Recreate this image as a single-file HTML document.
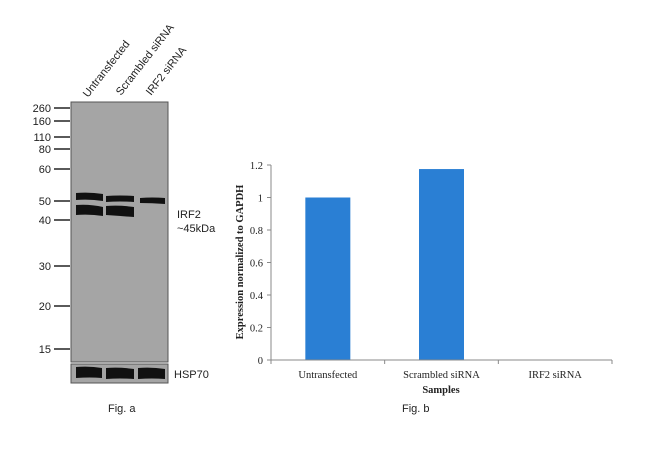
<!DOCTYPE html>
<html><head><meta charset="utf-8"><style>
body{margin:0;background:#fff;width:650px;height:449px;overflow:hidden}
svg{display:block}
.a{font-family:"Liberation Sans",sans-serif;font-size:11px;fill:#222}
.s{font-family:"Liberation Serif",serif;font-size:10.5px;fill:#222}
</style></head><body>
<svg width="650" height="449">
<g id="blot">
<rect x="71" y="102" width="97" height="260" fill="#a5a5a5" stroke="#555" stroke-width="1"/>
<rect x="71" y="364" width="97" height="19" fill="#a5a5a5" stroke="#555" stroke-width="1"/>
<g>
<text class="a" transform="translate(88,98) rotate(-52)">Untransfected</text>
<text class="a" transform="translate(121,96) rotate(-52)">Scrambled siRNA</text>
<text class="a" transform="translate(151,96) rotate(-52)">IRF2 siRNA</text>
</g>
<g id="markers"></g>
<g fill="#111">
<path d="M76,193 Q90,192 103,194 L103,201 Q90,199 76,200Z"/>
<path d="M76,205 Q90,204 103,207 L103,216 Q90,214 76,215Z"/>
<path d="M106,196 Q120,195 134,196 L134,202 Q120,201 106,202Z"/>
<path d="M106,206 Q120,205 134,207 L134,217 Q120,216 106,215Z"/>
<path d="M140,198 Q152,197 165,198 L165,204 Q152,203 140,203Z"/>
<path d="M76,367 Q90,366 102,368 L102,378 Q90,377 76,378Z"/>
<path d="M106,368 Q120,367 134,369 L134,379 Q120,378 106,379Z"/>
<path d="M138,368 Q152,367 165,369 L165,379 Q152,378 138,379Z"/>
</g>
<text class="a" x="177" y="218">IRF2</text>
<text class="a" x="177" y="232">~45kDa</text>
<text class="a" x="174" y="378">HSP70</text>
<text class="a" x="108" y="412" font-size="10">Fig. a</text>
</g>
<g id="chart"></g>
<text class="a" x="402" y="412" font-size="10">Fig. b</text>
</svg>
<script>
const mwLabels=["260","160","110","80","60","50","40","30","20","15"];
const mwY=[108,121,137,149,169,201,220,266,306,349];
const categories=["Untransfected","Scrambled siRNA","IRF2 siRNA"];
const values=[1.0,1.175,0];
const yTicks=[0,0.2,0.4,0.6,0.8,1,1.2];
const NS="http://www.w3.org/2000/svg";
function mk(p,t,a){const e=document.createElementNS(NS,t);for(const k in a)e.setAttribute(k,a[k]);p.appendChild(e);return e;}
const mg=document.getElementById('markers');
mwLabels.forEach((l,i)=>{
 const ln=mk(mg,'line',{x1:54,x2:70,y1:mwY[i],y2:mwY[i],stroke:'#222','stroke-width':1.5});
 
 
 const t=mk(mg,'text',{x:51,y:mwY[i]+4,'text-anchor':'end',class:'a'});t.textContent=l;
 
 
});
const g=document.getElementById('chart');
const X0=271,X1=612,Y0=360,YT=165,YMAX=1.2;
const y=v=>Y0-(v/YMAX)*(Y0-YT);
const bw=(X1-X0)/categories.length;
const xc=i=>X0+bw*(i+0.5);
yTicks.forEach(v=>{
 const tk=mk(g,'line',{x1:X0-4,x2:X0,y1:y(v),y2:y(v),stroke:'#888'});
 
 
 const t=mk(g,'text',{x:X0-8,y:y(v)+4,'text-anchor':'end',class:'s'});t.textContent=String(v);
 
 
});
values.forEach((v,i)=>{
 if(v>0){const r=mk(g,'rect',{x:xc(i)-22.5,y:y(v),width:45,height:Y0-y(v),fill:'#2a7fd4'});
 
 }
 const t=mk(g,'text',{x:xc(i),y:Y0+18,'text-anchor':'middle',class:'s'});t.textContent=categories[i];
 
 
});
for(let i=0;i<=categories.length;i++){const tk=mk(g,'line',{x1:X0+bw*i,x2:X0+bw*i,y1:Y0,y2:Y0+4,stroke:'#888'});
 
 }
const ax=mk(g,'line',{x1:X0,x2:X0,y1:YT,y2:Y0,stroke:'#888'});


const bx=mk(g,'line',{x1:X0,x2:X1,y1:Y0,y2:Y0,stroke:'#888'});


const xt=mk(g,'text',{x:441,y:393,'text-anchor':'middle',class:'s','font-weight':'bold'});xt.textContent='Samples';


const yt=mk(g,'text',{transform:'translate(243,262) rotate(-90)','text-anchor':'middle',class:'s','font-weight':'bold'});yt.textContent='Expression normalized to GAPDH';


</script>
</body></html>
